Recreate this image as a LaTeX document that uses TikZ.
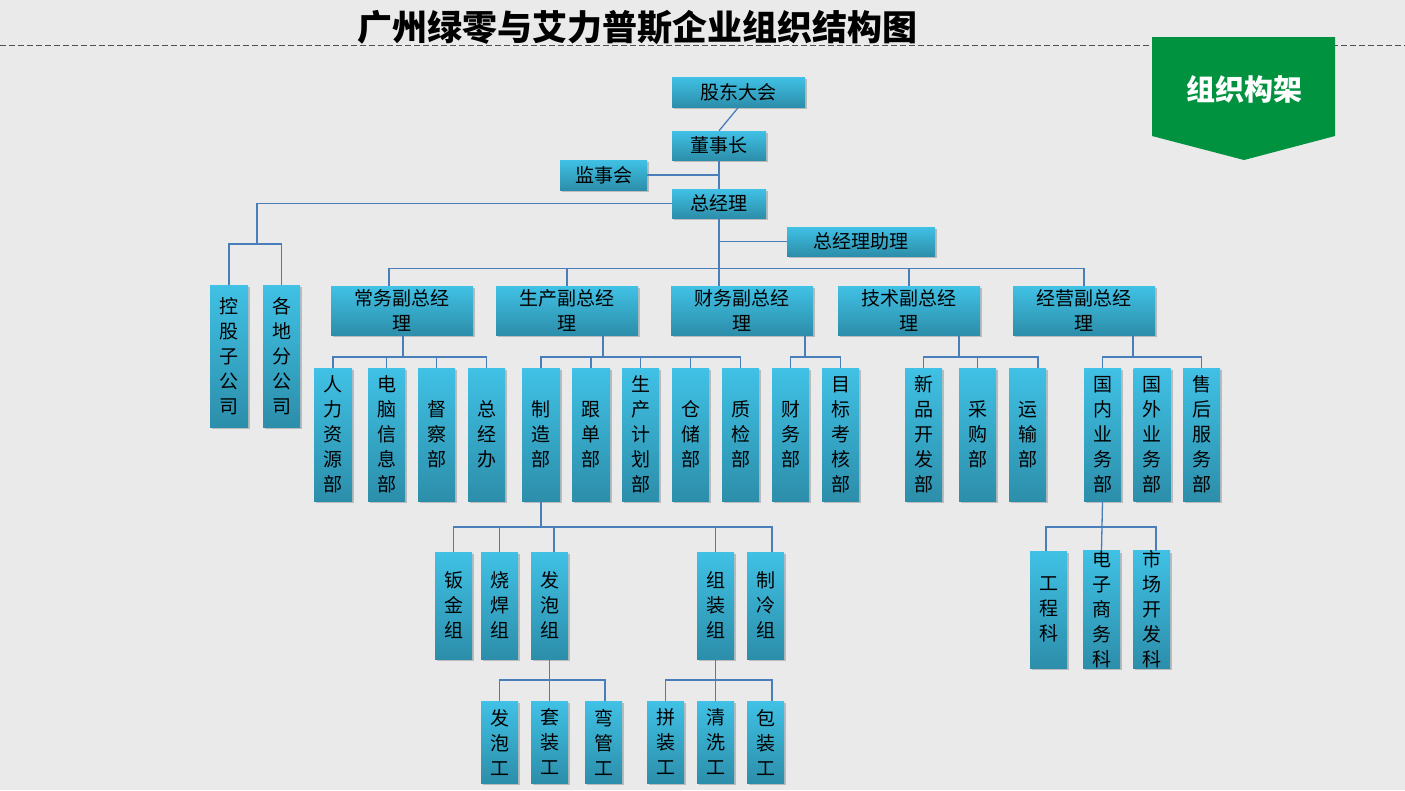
\documentclass[tikz,border=0pt]{standalone}
\usepackage{fontspec}
\newfontfamily\cjk{Noto Sans CJK SC}
\usetikzlibrary{shadows}
\definecolor{bg}{RGB}{234,234,234}
\definecolor{boxtop}{RGB}{64,193,229}
\definecolor{boxbot}{RGB}{44,142,170}
\definecolor{lnk}{RGB}{74,126,187}
\definecolor{bannergreen}{RGB}{0,146,63}
\definecolor{dashgray}{RGB}{80,80,90}
\tikzset{
  box/.style={draw=none, top color=boxtop, bottom color=boxbot, inner sep=0pt, align=center,
    font=\cjk\fontsize{19}{25}\selectfont,
    drop shadow={shadow xshift=2pt, shadow yshift=-2pt, opacity=0.2, fill=black}},
  vp/.style={box, minimum width=142pt, minimum height=49pt},
  sidebox/.style={box, minimum width=38pt, minimum height=142pt},
  dept/.style={box, minimum width=37pt, minimum height=133pt},
  grp/.style={box, minimum width=37pt, minimum height=107pt},
  wrk/.style={box, minimum width=37pt, minimum height=82pt},
  sec/.style={box, minimum width=37pt, minimum height=117pt},
  conn/.style={draw=lnk, line width=1.3pt}
}
\begin{document}
\begin{tikzpicture}[x=1pt,y=-1pt]
\useasboundingbox (0,0) rectangle (1405,790);
\fill[bg] (0,0) rectangle (1405,790);
\draw[dashgray, line width=1pt, dash pattern=on 6pt off 3pt] (0,45) -- (1405,45);

% title
\node[font=\cjk\bfseries\fontsize{35}{40}\selectfont, inner sep=0pt] (title) at (637,27) {广州绿零与艾力普斯企业组织结构图};

% banner
\fill[bannergreen] (1152,37) -- (1335,37) -- (1335,136) -- (1244,160) -- (1152,136) -- cycle;
\node[font=\cjk\bfseries\fontsize{29}{32}\selectfont, text=white, inner sep=0pt] (banner) at (1244,89) {组织构架};

% top
\node[box, minimum width=133pt, minimum height=30pt] (gddh) at (738.5,92) {股东大会};
\node[box, minimum width=94pt, minimum height=29pt] (dsz) at (719,145.5) {董事长};
\node[box, minimum width=87pt, minimum height=30pt] (jsh) at (603.5,175) {监事会};
\node[box, minimum width=94pt, minimum height=29pt] (zjl) at (719,203.5) {总经理};
\node[box, minimum width=148pt, minimum height=29pt] (zl) at (861,241.5) {总经理助理};

% left side
\node[sidebox] (kg) at (229,356) {控\\股\\子\\公\\司};
\node[sidebox, minimum width=37pt] (fgs) at (281.5,356) {各\\地\\分\\公\\司};

% vice GMs
\node[vp] (cwf) at (402,310.5) {常务副总经\\理};
\node[vp] (scf) at (567,310.5) {生产副总经\\理};
\node[vp] (cff) at (742,310.5) {财务副总经\\理};
\node[vp] (jsf) at (909,310.5) {技术副总经\\理};
\node[vp] (jyf) at (1084,310.5) {经营副总经\\理};

% departments
\node[dept, minimum width=38pt] (rl) at (333,434.5) {人\\力\\资\\源\\部};
\node[dept] (dn) at (386.5,434.5) {电\\脑\\信\\息\\部};
\node[dept] (dc) at (436.5,434.5) {督\\察\\部};
\node[dept] (zjb) at (486.5,434.5) {总\\经\\办};
\node[dept, minimum width=38pt] (zz) at (541,434.5) {制\\造\\部};
\node[dept, minimum width=38pt] (gd) at (591,434.5) {跟\\单\\部};
\node[dept] (jh) at (640.5,434.5) {生\\产\\计\\划\\部};
\node[dept] (cc) at (690.5,434.5) {仓\\储\\部};
\node[dept] (zj) at (740.5,434.5) {质\\检\\部};
\node[dept] (cwb) at (790.5,434.5) {财\\务\\部};
\node[dept] (mb) at (840.5,434.5) {目\\标\\考\\核\\部};
\node[dept] (xp) at (923.5,434.5) {新\\品\\开\\发\\部};
\node[dept] (cg) at (977.5,434.5) {采\\购\\部};
\node[dept] (ys) at (1027.5,434.5) {运\\输\\部};
\node[dept] (gn) at (1102.5,434.5) {国\\内\\业\\务\\部};
\node[dept] (gw) at (1152,434.5) {国\\外\\业\\务\\部};
\node[dept] (sh) at (1201.5,434.5) {售\\后\\服\\务\\部};

% groups
\node[grp] (bj) at (453.5,605.5) {钣\\金\\组};
\node[grp] (sh2) at (499.5,605.5) {烧\\焊\\组};
\node[grp] (fp) at (549.5,605.5) {发\\泡\\组};
\node[grp] (zzz) at (715.5,605.5) {组\\装\\组};
\node[grp] (zl2) at (765.5,605.5) {制\\冷\\组};

% workers
\node[wrk] (fpg) at (499.5,742) {发\\泡\\工};
\node[wrk] (tzg) at (549.5,742) {套\\装\\工};
\node[wrk] (wgg) at (603.5,742) {弯\\管\\工};
\node[wrk] (pzg) at (665.5,742) {拼\\装\\工};
\node[wrk] (qxg) at (715.5,742) {清\\洗\\工};
\node[wrk] (bzg) at (765.5,742) {包\\装\\工};

% sections
\node[sec] (gck) at (1048.5,609.5) {工\\程\\科};
\node[sec] (dzk) at (1101.5,609.5) {电\\子\\商\\务\\科};
\node[sec] (sck) at (1151.5,609.5) {市\\场\\开\\发\\科};

% bus coordinates
\coordinate (lb) at (257,244);
\coordinate (b2) at (0,269);
\coordinate (b3) at (0,357);
\coordinate (b4) at (0,527);
\coordinate (b5) at (0,680);

% connectors top
\draw[conn] (gddh.south) -- (dsz.north);
\draw[conn] (dsz.south) -- (zjl.north);
\draw[conn] (jsh.east) -- (jsh.east -| dsz.south);
\draw[conn] (zjl.south) -- (zjl.south |- cff.north);
\draw[conn] (zl.west) -- (zl.west -| zjl.south);
\draw[conn] (zjl.west) -| (lb);
\draw[conn] (kg.north) |- (lb) -| (fgs.north);

% bus to vice GMs
\draw[conn] ([xshift=-13pt]cwf.north) -- ++(0,-17) -| (jyf.north);
\draw[conn] (scf.north) -- (scf.north |- b2);
\draw[conn] (jsf.north) -- (jsf.north |- b2);

% departments
\draw[conn] ([xshift=1pt]cwf.south) -- ++(0,22);
\draw[conn] (rl.north) |- (zjb.north |- b3) -- (zjb.north);
\draw[conn] (dn.north) -- (dn.north |- b3);
\draw[conn] (dc.north) -- (dc.north |- b3);

\draw[conn] ([xshift=36pt]scf.south) -- ++(0,22);
\draw[conn] (zz.north) |- (zj.north |- b3) -- (zj.north);
\draw[conn] (gd.north) -- (gd.north |- b3);
\draw[conn] (jh.north) -- (jh.north |- b3);
\draw[conn] (cc.north) -- (cc.north |- b3);

\draw[conn] ([xshift=63pt]cff.south) -- ++(0,22);
\draw[conn] (cwb.north) |- (mb.north |- b3) -- (mb.north);

\draw[conn] ([xshift=50pt]jsf.south) -- ++(0,22);
\draw[conn] (xp.north) |- ([xshift=10.5pt]ys.north |- b3) -- ([xshift=10.5pt]ys.north);
\draw[conn] (cg.north) -- (cg.north |- b3);

\draw[conn] ([xshift=49pt]jyf.south) -- ++(0,22);
\draw[conn] (gn.north) |- (sh.north |- b3) -- (sh.north);

% groups
\draw[conn] (zz.south) -- (zz.south |- b4);
\draw[conn] (bj.north) |- ([xshift=6.5pt]zl2.north |- b4) -- ([xshift=6.5pt]zl2.north);
\draw[conn] (sh2.north) -- (sh2.north |- b4);
\draw[conn] ([xshift=4.5pt]fp.north) -- ++(0,-25);
\draw[conn] (zzz.north) -- (zzz.north |- b4);

% workers
\draw[conn] (fp.south) -- (tzg.north);
\draw[conn] (fpg.north) |- ([xshift=1.5pt]wgg.north |- b5) -- ([xshift=1.5pt]wgg.north);
\draw[conn] (zzz.south) -- (qxg.north);
\draw[conn] (pzg.north) |- ([xshift=6.5pt]bzg.north |- b5) -- ([xshift=6.5pt]bzg.north);

% sections
\draw[conn] (gn.south) -- (dzk.north);
\draw[conn] ([xshift=-2.5pt]gck.north) |- ([xshift=4.5pt]sck.north |- b4) -- ([xshift=4.5pt]sck.north);
\end{tikzpicture}
\end{document}
